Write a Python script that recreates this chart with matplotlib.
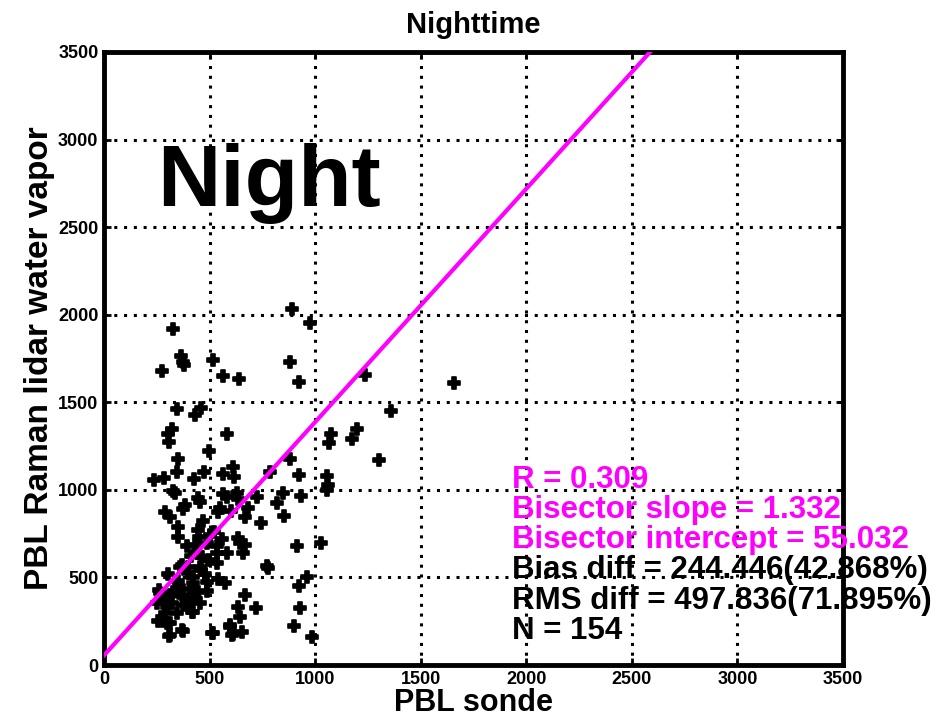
import matplotlib
matplotlib.use('Agg')
import matplotlib.pyplot as plt
from matplotlib import font_manager

# PBL heights (m): sonde vs Raman lidar water vapor, nighttime
pbl_sonde = [
    325, 892, 976, 365, 374, 380, 276, 518, 565, 641, 881, 924, 344, 459, 432,
    324, 302, 308, 584, 497, 352, 347, 237, 286, 426, 474, 562, 612, 617, 881,
    924, 1236, 1658, 1359, 1197, 1074, 1067, 1176, 1304, 1055, 1059, 1058, 849, 932, 852,
    915, 1028, 960, 925, 928, 900, 987, 786, 325, 336, 447, 455, 562, 628, 636,
    581, 723, 818, 384, 376, 289, 313, 549, 541, 683, 668, 744, 470, 352, 352,
    447, 502, 451, 392, 431, 486, 534, 636, 644, 668, 584, 534, 660, 463, 494,
    534, 771, 775, 360, 305, 399, 423, 459, 486, 541, 573, 357, 407, 447, 486,
    262, 313, 376, 249, 321, 376, 455, 668, 636, 720, 423, 289, 344, 644, 257,
    297, 313, 597, 373, 309, 518, 610, 652, 368, 455, 265, 289, 328, 368, 392,
    431, 415, 305, 313, 368, 510, 605, 597, 410, 520, 420, 350, 480, 300, 560,
    280, 400, 440, 600,
]
pbl_lidar = [
    1917, 2031, 1951, 1766, 1730, 1713, 1679, 1741, 1650, 1635, 1728, 1614, 1460, 1469, 1427,
    1346, 1317, 1272, 1319, 1222, 1174, 1104, 1056, 1070, 1062, 1104, 1091, 1132, 1075, 1176,
    1085, 1656, 1612, 1450, 1346, 1319, 1269, 1289, 1171, 1081, 1028, 1000, 980, 965, 851,
    680, 695, 504, 451, 327, 225, 162, 1104, 995, 980, 955, 933, 975, 984, 946,
    958, 961, 927, 914, 889, 875, 847, 895, 875, 895, 843, 809, 822, 790, 729,
    771, 742, 729, 680, 685, 695, 680, 723, 695, 685, 641, 641, 638, 618, 600,
    581, 565, 555, 561, 520, 524, 504, 542, 476, 489, 466, 451, 432, 419, 424,
    428, 400, 390, 352, 352, 343, 352, 400, 333, 324, 305, 295, 299, 276, 253,
    238, 242, 228, 196, 168, 181, 177, 190, 571, 561, 409, 371, 419, 400, 352,
    381, 305, 238, 171, 200, 181, 171, 219, 620, 760, 470, 480, 520, 330, 720,
    250, 560, 640, 880,
]

slope = 1.332
intercept = 55.032
stats_magenta = ["R = 0.309", "Bisector slope = 1.332", "Bisector intercept = 55.032"]
stats_black = ["Bias diff = 244.446(42.868%)", "RMS diff = 497.836(71.895%)", "N = 154"]

ticks = [0, 500, 1000, 1500, 2000, 2500, 3000, 3500]

names = {f.name for f in font_manager.fontManager.ttflist}
narrow = 'Liberation Sans Narrow' if 'Liberation Sans Narrow' in names else 'Liberation Sans'
plt.rcParams['font.family'] = ['Liberation Sans', 'DejaVu Sans']

fig = plt.figure(figsize=(9.49, 7.18), dpi=100)
ax = fig.add_axes([0.1096, 0.0738, 0.7787, 0.8538])

ax.scatter(pbl_sonde, pbl_lidar, marker='P', s=70, color='black',
           edgecolors='black', linewidths=1.2, zorder=3)

x_end = (3500 - intercept) / slope
ax.plot([0, x_end], [intercept, slope * x_end + intercept], color='#ff00ff', lw=3, zorder=4)

ax.set_xlim(0, 3500)
ax.set_ylim(0, 3500)
ax.set_xticks(ticks)
ax.set_yticks(ticks)
ax.grid(True, color='black', linestyle=(0, (1, 2.2)), linewidth=2.2)
ax.set_axisbelow(True)
ax.tick_params(direction='in', length=5, width=2, top=True, right=True, pad=4)
for lab in ax.get_xticklabels() + ax.get_yticklabels():
    lab.set_family(narrow)
    lab.set_fontweight('bold')
    lab.set_fontsize(13)
for sp in ax.spines.values():
    sp.set_linewidth(3.5)

ax.set_title("Nighttime", family=narrow, fontweight='bold', fontsize=21, pad=14)
ax.set_xlabel("PBL sonde", fontweight='bold', fontsize=22, labelpad=0)
ax.set_ylabel("PBL Raman lidar water vapor", fontweight='bold', fontsize=24, labelpad=2)

ax.text(0.072, 0.785, "Night", transform=ax.transAxes, fontsize=63, fontweight='bold',
        color='black', va='center', ha='left')

y0 = 1056
for i, s in enumerate(stats_magenta + stats_black):
    col = '#ff00ff' if i < 3 else 'black'
    ax.text(1930, y0 - i * 172, s, color=col, fontsize=22.5, fontweight='bold',
            va='center', ha='left', zorder=5, clip_on=False)

fig.savefig('out.png', dpi=100)
